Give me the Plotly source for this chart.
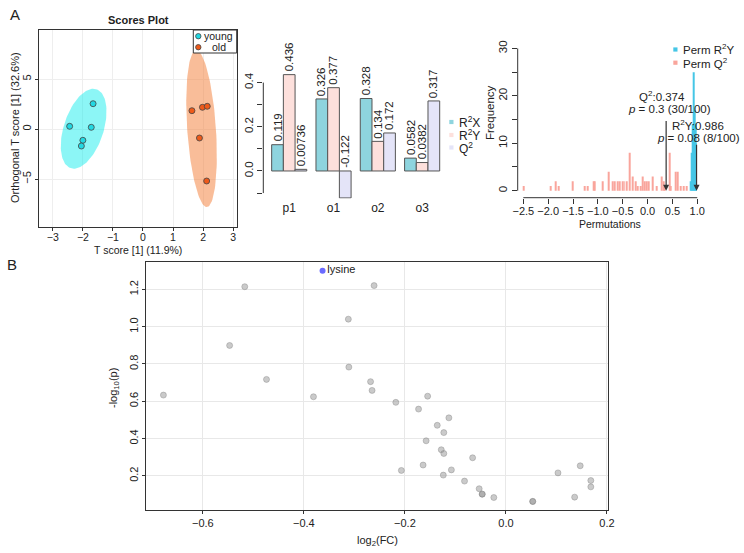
import numpy as np
import plotly.graph_objects as go

W, H = 744, 553

# scores plot (OPLS-DA)
young_t = [-1.66, -2.44, -1.72, -2.00, -2.05]
young_o = [2.53, 0.27, 0.17, -1.13, -1.70]
old_t = [1.63, 1.98, 2.14, 1.88, 2.12]
old_o = [1.83, 2.17, 2.27, -0.90, -5.20]

# model overview bars
components = ["p1", "o1", "o2", "o3"]
r2x = [0.119, 0.326, 0.328, 0.0582]
r2y = [0.436, 0.377, 0.134, 0.0382]
q2 = [0.00736, -0.122, 0.172, 0.317]

# permutation histogram
q2_perm_x = [-2.50, -1.95, -1.84, -1.79, -1.51, -1.27, -1.20, -1.09, -1.07,
             -0.90, -0.78, -0.70, -0.66, -0.61, -0.57, -0.50, -0.47, -0.41,
             -0.36, -0.30, -0.24, -0.20, -0.14, -0.10, -0.06, -0.01, 0.02,
             0.11, 0.18, 0.28, 0.32, 0.35, 0.44, 0.47, 0.57, 0.60, 0.66,
             0.73, 0.78]
q2_perm_n = [1, 1, 2, 1, 2, 1, 1, 2, 2, 2, 4, 2, 2, 2, 2, 2, 2, 2, 8, 3,
             2, 1, 1, 3, 2, 2, 2, 3, 1, 3, 2, 1, 8, 1, 4, 4, 1, 1, 1]
r2y_perm_x = [0.86, 0.88, 0.90, 0.92, 0.94, 0.96, 0.98]
r2y_perm_n = [2, 8, 14, 25, 17, 14, 10]
q2_obs, q2_p = 0.374, "0.3 (30/100)"
r2y_obs, r2y_p = 0.986, "0.08 (8/100)"

# volcano
log2fc = [-0.678, -0.547, -0.517, -0.474, -0.381, -0.312, -0.311, -0.268,
          -0.265, -0.261, -0.218, -0.173, -0.155, -0.113, -0.136, -0.123,
          -0.158, -0.128, -0.123, -0.066, -0.207, -0.164, -0.108, -0.124,
          -0.082, -0.053, -0.047, -0.047, -0.024, 0.053, 0.053, 0.103,
          0.147, 0.168, 0.168, 0.136]
neglogp = [0.633, 0.899, 1.214, 0.717, 0.624, 1.040, 0.783, 0.705, 0.658,
           1.220, 0.594, 0.558, 0.627, 0.511, 0.471, 0.432, 0.388, 0.340,
           0.320, 0.297, 0.229, 0.258, 0.232, 0.204, 0.172, 0.131, 0.102,
           0.102, 0.084, 0.063, 0.063, 0.216, 0.254, 0.175, 0.141, 0.086]
sig_name = ["lysine"]
sig_fc = [-0.363]
sig_p = [1.30]

FONT = "Liberation Sans, Arial, sans-serif"
INK = "#222222"


def fx(p):
    return p / W


def fy(p):
    return 1 - p / H


def conf_ellipse(xs, ys, n=120):
    pts = np.column_stack([xs, ys])
    mu = pts.mean(axis=0)
    vals, vecs = np.linalg.eigh(np.cov(pts, rowvar=False))
    t = np.linspace(0, 2 * np.pi, n)
    circ = np.stack([np.cos(t), np.sin(t)])
    ell = vecs @ (np.sqrt(vals)[:, None] * circ) * np.sqrt(5.991)
    return mu[0] + ell[0], mu[1] + ell[1]


fig = go.Figure()

# --- scores plot
for xs, ys, fill in [(young_t, young_o, "rgba(0,235,235,0.45)"),
                     (old_t, old_o, "rgba(244,128,60,0.52)")]:
    ex, ey = conf_ellipse(xs, ys)
    fig.add_trace(go.Scatter(x=ex, y=ey, fill="toself", fillcolor=fill,
                             mode="lines", line=dict(width=0),
                             hoverinfo="skip", xaxis="x", yaxis="y"))
for xs, ys, col in [(young_t, young_o, "#22D8E2"),
                    (old_t, old_o, "#EE5A1A")]:
    fig.add_trace(go.Scatter(x=xs, y=ys, mode="markers",
                             marker=dict(size=6, color=col,
                                         line=dict(width=0.8, color="#444")),
                             xaxis="x", yaxis="y"))

# --- overview bars
bw = 11.7 / 44.3
idx = np.arange(len(components))
ann = []
for k, (vals, col) in enumerate([(r2x, "#8ED4DE"), (r2y, "#FDE0DC"),
                                 (q2, "#E4E4F8")]):
    xs = idx + (k - 1) * bw
    fig.add_trace(go.Bar(x=xs, y=vals, width=bw, marker_color=col,
                         marker_line=dict(width=1, color="#555"),
                         xaxis="x2", yaxis="y2"))
    for xv, v in zip(xs, vals):
        ann.append(dict(x=xv, y=max(v, 0), xref="x2", yref="y2", text=str(v),
                        textangle=-90, showarrow=False, yanchor="bottom",
                        xanchor="center", yshift=1,
                        font=dict(size=11.5, color=INK)))

# --- permutation histogram
fig.add_trace(go.Bar(x=q2_perm_x, y=q2_perm_n, width=0.02,
                     marker=dict(color="#F9A59C", line=dict(width=0)),
                     xaxis="x3", yaxis="y3"))
fig.add_trace(go.Bar(x=r2y_perm_x, y=r2y_perm_n, width=0.018,
                     marker=dict(color="#45C6E6", line=dict(width=0)),
                     xaxis="x3", yaxis="y3"))
for xv, top in [(q2_obs, 15), (r2y_obs, 10)]:
    ann.append(dict(x=xv, y=0, ax=xv, ay=top, xref="x3", yref="y3",
                    axref="x3", ayref="y3", text="", showarrow=True,
                    arrowhead=2, arrowsize=1, arrowwidth=1.2,
                    arrowcolor="#333"))
perm_txt = [
    dict(x=0.29, y=20.0, text=f"Q<sup>2</sup>:{q2_obs}"),
    dict(x=0.45, y=17.2, text=f"<i>p</i> = {q2_p}"),
    dict(x=1.02, y=13.9, text=f"R<sup>2</sup>Y:{r2y_obs}"),
    dict(x=1.02, y=11.2, text=f"<i>p</i> = {r2y_p}"),
]
for a in perm_txt:
    a.update(xref="x3", yref="y3", showarrow=False,
             font=dict(size=11.5, color=INK))
ann += perm_txt

# --- volcano
fig.add_trace(go.Scatter(x=log2fc, y=neglogp, mode="markers",
                         marker=dict(size=6, color="rgba(150,150,150,0.5)",
                                     line=dict(width=1,
                                               color="rgba(130,130,130,0.4)")),
                         xaxis="x4", yaxis="y4"))
fig.add_trace(go.Scatter(x=sig_fc, y=sig_p, mode="markers+text",
                         text=sig_name, textposition="middle right",
                         textfont=dict(size=11, color=INK),
                         marker=dict(size=6, color="#6B6BFF"),
                         xaxis="x4", yaxis="y4"))


# --- texts in pixel positions
def label(x, y, text, size=11, angle=0, anchor="center", bold=False):
    if bold:
        text = f"<b>{text}</b>"
    ann.append(dict(x=fx(x), y=fy(y), xref="paper", yref="paper", text=text,
                    showarrow=False, textangle=angle, xanchor=anchor,
                    yanchor="middle", font=dict(size=size, color=INK)))


label(15, 15, "A", 15)
label(12, 264, "B", 15)
label(138, 20, "Scores Plot", 11, bold=True)
label(15, 128, "Orthogonal T score [1] (32.6%)", 11, -90)
label(138, 250, "T score [1] (11.9%)", 10.5)
label(218.5, 36.2, "young", 10.5)
label(218.5, 47.2, "old", 10.5)
label(457, 122, "R<sup>2</sup>X", 12, anchor="left")
label(457, 135, "R<sup>2</sup>Y", 12, anchor="left")
label(457, 148, "Q<sup>2</sup>", 12, anchor="left")
label(681, 49.5, "Perm R<sup>2</sup>Y", 11.5, anchor="left")
label(681, 62.7, "Perm Q<sup>2</sup>", 11.5, anchor="left")
label(610, 223.5, "Permutations", 10.5)
label(490, 113, "Frequency", 11.5, -90)
label(377, 541, "log<sub>2</sub>(FC)", 11)
label(114, 388, "-log<sub>10</sub>(p)", 11, -90)

shapes = [
    # scores legend
    dict(type="rect", xref="paper", yref="paper", x0=fx(193.3), x1=fx(236.7),
         y0=fy(53), y1=fy(30), line=dict(color="#333", width=1),
         fillcolor="white"),
    dict(type="circle", xref="paper", yref="paper", x0=fx(195.6), x1=fx(201),
         y0=fy(38.9), y1=fy(33.5), fillcolor="#22D8E2",
         line=dict(color="#444", width=0.8)),
    dict(type="circle", xref="paper", yref="paper", x0=fx(195.6), x1=fx(201),
         y0=fy(49.9), y1=fy(44.5), fillcolor="#EE5A1A",
         line=dict(color="#444", width=0.8)),
    # bar chart y axis line
    dict(type="line", xref="x2 domain", yref="y2", x0=0, x1=0, y0=-0.1,
         y1=0.4, line=dict(color="#333", width=1)),
    # permutation axes
    dict(type="line", xref="x3", yref="y3 domain", x0=-2.5, x1=1.0, y0=0,
         y1=0, line=dict(color="#333", width=1)),
    dict(type="line", xref="x3 domain", yref="y3", x0=0, x1=0, y0=0, y1=30,
         line=dict(color="#333", width=1)),
]
for yc, col in [(122, "#8ED4DE"), (135, "#FDE0DC"), (147.5, "#E4E4F8")]:
    shapes.append(dict(type="rect", xref="paper", yref="paper",
                       x0=fx(449.3), x1=fx(453.5), y0=fy(yc + 2.1),
                       y1=fy(yc - 2.1), fillcolor=col, line=dict(width=0)))
for yc, col in [(49.5, "#45C6E6"), (62.7, "#F9A59C")]:
    shapes.append(dict(type="rect", xref="paper", yref="paper",
                       x0=fx(673.3), x1=fx(677.5), y0=fy(yc + 2.1),
                       y1=fy(yc - 2.1), fillcolor=col, line=dict(width=0)))

tick_font = dict(size=11, color=INK, family=FONT)
box = dict(showline=True, mirror=True, linecolor="#333", linewidth=1,
           zeroline=False, ticks="outside", ticklen=3, tickcolor="#333",
           tickfont=tick_font)
minor_tk = dict(ticks="outside", ticklen=5, tickcolor="#333", showgrid=False)

fig.update_layout(
    width=W, height=H, autosize=False, template="none",
    margin=dict(l=0, r=0, t=0, b=0), showlegend=False,
    paper_bgcolor="white", plot_bgcolor="white",
    font=dict(family=FONT, color=INK), barmode="overlay",
    annotations=ann, shapes=shapes,
    xaxis=dict(domain=[fx(39.3), fx(236.7)], range=[-3.45, 3.12],
               tickvals=[-3, -2, -1, 0, 1, 2, 3], showgrid=True,
               gridcolor="#EEEEEE", anchor="y", tickangle=0,
               ticklabelstandoff=-3,
               **{**box, "tickfont": dict(size=10.5, color=INK,
                                          family=FONT)}),
    yaxis=dict(domain=[fy(227), fy(30)], range=[-9.8, 9.9],
               tickvals=[-5, 0, 5], tickangle=-90, showgrid=True,
               gridcolor="#EEEEEE", anchor="x", **box),
    xaxis2=dict(domain=[fx(263.3), fx(444.3)], range=[-0.585, 3.5],
                tickvals=list(idx), ticktext=components, ticks="",
                showline=False, showgrid=False, zeroline=False, tickangle=0,
                tickfont=dict(size=12, color=INK, family=FONT), anchor="y2"),
    yaxis2=dict(domain=[fy(198.6), fy(60.5)], range=[-0.125, 0.5],
                tickvals=[0, 0.2, 0.4], tickformat=".1f", tickangle=-90,
                ticks="outside", ticklen=5, tickcolor="#333",
                minor=dict(tickvals=[-0.1, 0.1, 0.3], **minor_tk),
                showline=False, showgrid=False, zeroline=False,
                tickfont=dict(size=11.5, color=INK, family=FONT),
                anchor="x2"),
    xaxis3=dict(domain=[fx(517.7), fx(704.7)], range=[-2.613, 1.15],
                tickvals=[-2.5, -2.0, -1.5, -1.0, -0.5, 0.0, 0.5, 1.0],
                tickformat=".1f", ticks="outside", ticklen=5, tickangle=0,
                ticklabelstandoff=-2, tickcolor="#333", showline=False,
                showgrid=False, zeroline=False,
                tickfont=dict(size=11, color=INK, family=FONT), anchor="y3"),
    yaxis3=dict(domain=[fy(197.7), fy(39)], range=[-1.48, 32],
                tickvals=[0, 10, 20, 30], tickangle=-90,
                ticks="outside", ticklen=5, tickcolor="#333",
                minor=dict(tickvals=[5, 15, 25], **minor_tk),
                showline=False, showgrid=False, zeroline=False,
                tickfont=dict(size=11.5, color=INK, family=FONT),
                anchor="x3"),
    xaxis4=dict(domain=[fx(146), fx(608.3)], range=[-0.7125, 0.2026],
                tickvals=[-0.6, -0.4, -0.2, 0.0, 0.2], tickformat=".1f",
                showgrid=True, gridcolor="#E8E8E8", anchor="y4", tickangle=0,
                **box),
    yaxis4=dict(domain=[fy(510), fy(261.7)], range=[0.017, 1.348],
                tickvals=[0.2, 0.4, 0.6, 0.8, 1.0, 1.2], tickformat=".1f",
                tickangle=-90, showgrid=True, gridcolor="#E8E8E8",
                anchor="x4", **box),
)

# the page body has a default margin; remove it so the figure fills the window
fig.write_html("out.html", config={"displayModeBar": False},
               post_script="document.body.style.margin='0';")
